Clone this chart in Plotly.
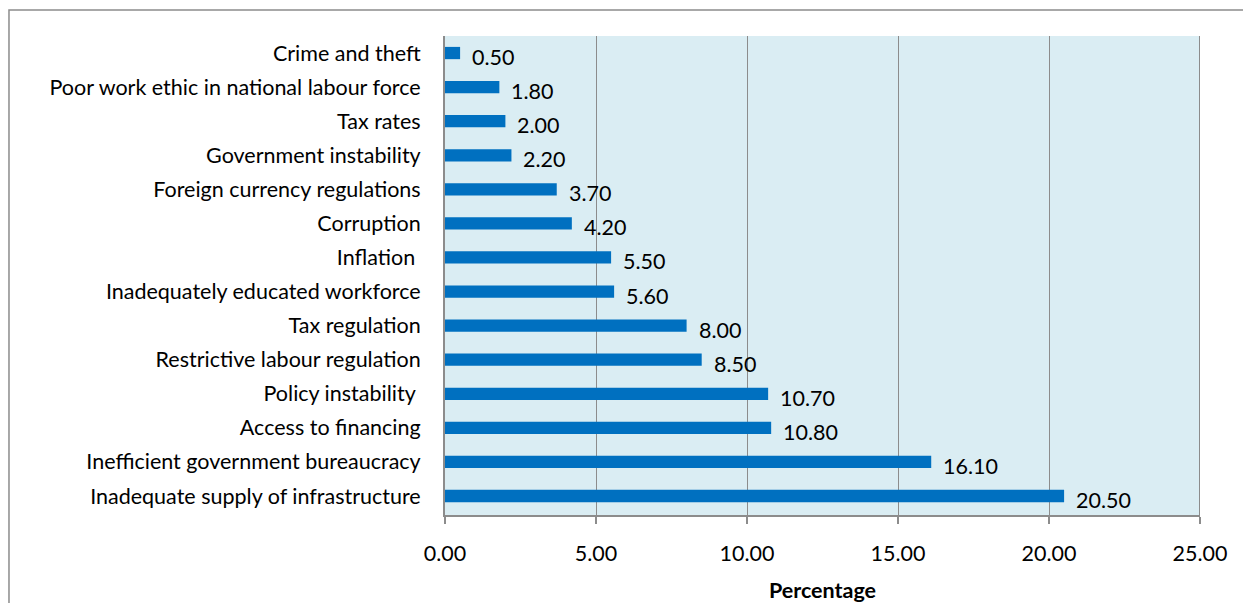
import plotly.graph_objects as go

# Constraint categories, listed top to bottom
categories = [
    "Crime and theft",
    "Poor work ethic in national labour force",
    "Tax rates",
    "Government instability",
    "Foreign currency regulations",
    "Corruption",
    "Inflation ",
    "Inadequately educated workforce",
    "Tax regulation",
    "Restrictive labour regulation",
    "Policy instability ",
    "Access to financing",
    "Inefficient government bureaucracy",
    "Inadequate supply of infrastructure",
]
percentages = [0.5, 1.8, 2.0, 2.2, 3.7, 4.2, 5.5, 5.6, 8.0, 8.5, 10.7, 10.8, 16.1, 20.5]
x_ticks = [0, 5, 10, 15, 20, 25]

FONT = "Lato, 'Open Sans', sans-serif"
FS = 21.5
GRID = "#8c8c8c"

fig = go.Figure()
fig.add_trace(go.Bar(
    x=percentages,
    y=categories,
    orientation="h",
    marker=dict(color="#0070C0", line=dict(width=0)),
    width=0.36,
    hoverinfo="x+y",
))

# value labels just past each bar end
for cat, val in zip(categories, percentages):
    fig.add_annotation(
        x=val, y=cat, text=f"{val:.2f}", showarrow=False,
        xanchor="left", yanchor="middle", xshift=10, yshift=-4,
        font=dict(family=FONT, size=FS, color="#000"),
    )

# outer chart border
fig.add_shape(
    type="rect", xref="paper", yref="paper",
    x0=-0.5775, x1=1.2, y0=-0.3, y1=1.0543,
    line=dict(color="#8c8c8c", width=1.5), fillcolor="rgba(0,0,0,0)",
    layer="below",
)

fig.update_layout(
    width=1243, height=603,
    margin=dict(l=445, r=43, t=36, b=88),
    paper_bgcolor="white",
    plot_bgcolor="#DAEDF3",
    showlegend=False,
    font=dict(family=FONT, size=FS, color="#000"),
    xaxis=dict(
        range=[0, 25],
        tickvals=x_ticks,
        ticktext=[f"{v:.2f}" for v in x_ticks],
        showgrid=True, gridcolor=GRID, gridwidth=1,
        showline=True, linecolor=GRID, linewidth=2, mirror=False,
        ticks="outside", ticklen=7, tickcolor=GRID, tickwidth=1.5,
        tickfont=dict(family=FONT, size=FS, color="#000"),
        ticklabelstandoff=11,
        zeroline=False,
        automargin=False,
        title=dict(text="<b>Percentage</b>", font=dict(family=FONT, size=21.5, color="#000"), standoff=23),
        fixedrange=True,
    ),
    yaxis=dict(
        categoryorder="array",
        categoryarray=categories[::-1],
        showgrid=False,
        showline=True, linecolor=GRID, linewidth=2,
        ticks="", ticklabelstandoff=18,
        tickfont=dict(family=FONT, size=FS, color="#000"),
        zeroline=False,
        automargin=False,
        fixedrange=True,
    ),
    bargap=0.64,
)

# right edge line at 25
fig.add_shape(type="line", xref="x", yref="paper", x0=25, x1=25, y0=0, y1=1,
              line=dict(color=GRID, width=2))

fig.write_html("out.html")
